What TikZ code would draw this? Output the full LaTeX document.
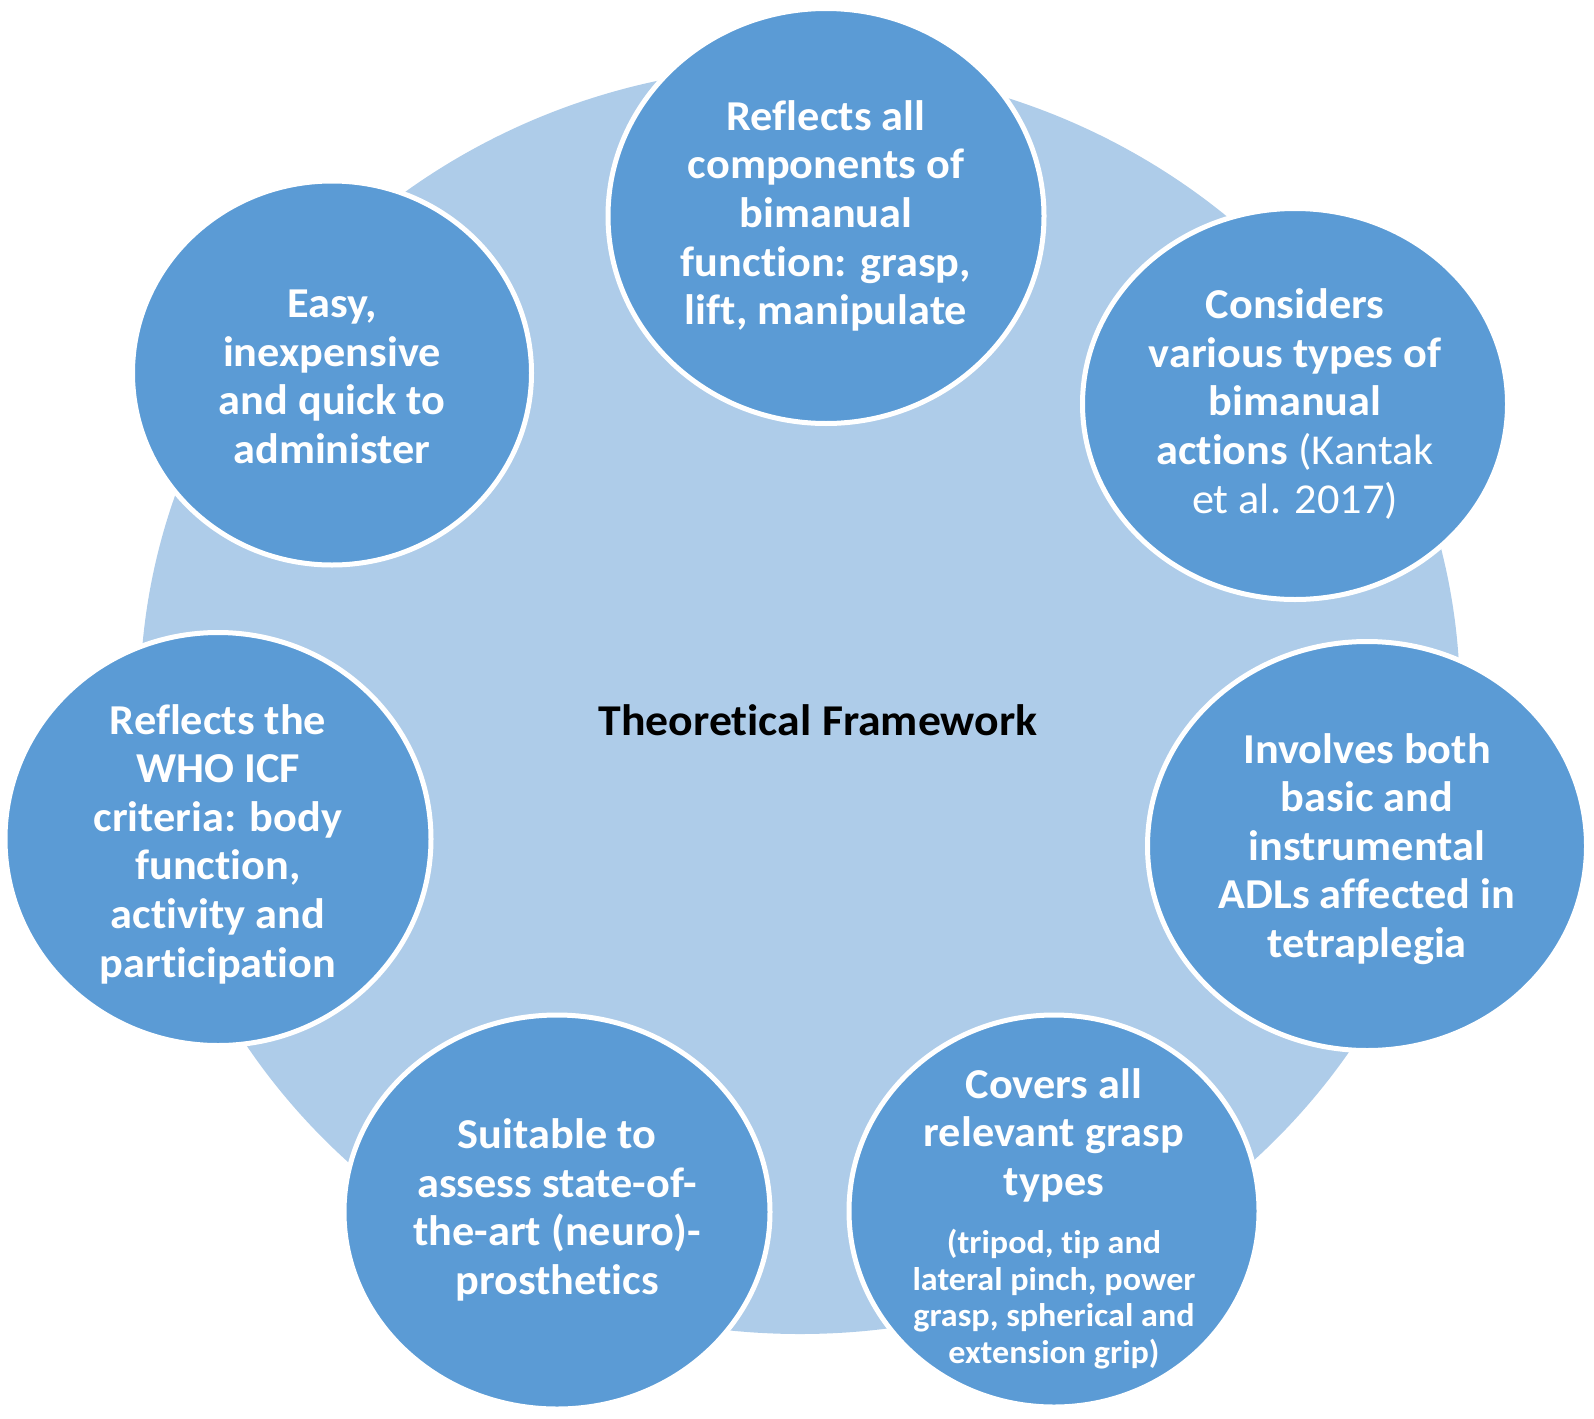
\documentclass[tikz,border=0pt]{standalone}
\usepackage{fontspec}
\setmainfont{Carlito}[FakeStretch=1.04, Ligatures=NoCommon]
\usetikzlibrary{shapes.geometric}
\definecolor{darkblue}{RGB}{91,155,213}
\definecolor{lightblue}{RGB}{174,204,233}
\tikzset{
  bgshape/.style={ellipse, fill=lightblue, draw=none, inner sep=0pt},
  bubble/.style={ellipse, draw=white, line width=2.5pt, fill=darkblue, inner sep=0pt},
  btext/.style={text=white, font=\bfseries\fontsize{21.3}{24.3}\selectfont, align=center, inner sep=0pt},
  bsmall/.style={text=white, font=\bfseries\fontsize{16.4}{18.3}\selectfont, align=center, inner sep=0pt},
  ttext/.style={text=black, font=\bfseries\fontsize{22}{24.15}\selectfont, align=center, inner sep=0pt}
}
\begin{document}
\begin{tikzpicture}[x=0.5pt,y=-0.5pt]
\useasboundingbox (0,0) rectangle (1594,1418);
\node[bgshape, minimum width=660pt, minimum height=634pt] (bg) at (800,700) {};
\node[ttext] (title) at (818,720) {Theoretical Framework};

\node[bubble, minimum width=218pt, minimum height=207.5pt] (c1) at (826,216) {};
\node[btext] (t1) at (c1.center) {Reflects all\\components of\\bimanual\\function: grasp,\\lift, manipulate};

\node[bubble, minimum width=212.5pt, minimum height=195.5pt] (c2) at (1295,404) {};
\node[btext] (t2) at (c2.center) {Considers\\various types of\\bimanual\\actions {\mdseries (Kantak}\\{\mdseries et al. 2017)}};

\node[bubble, minimum width=219.5pt, minimum height=204.5pt] (c3) at (1367,846) {};
\node[btext] (t3) at ([yshift=-1.5pt]c3.center) {Involves both\\basic and\\instrumental\\ADLs affected in\\tetraplegia};

\node[bubble, minimum width=205pt, minimum height=196pt] (c4) at (1054,1211) {};
\node[btext] (t4) at (1054,1135) {Covers all\\relevant grasp\\types};
\node[bsmall] (t4s) at (1054,1299) {(tripod, tip and\\lateral pinch, power\\grasp, spherical and\\extension grip)};

\node[bubble, minimum width=213pt, minimum height=197pt] (c5) at (557,1212) {};
\node[btext] (t5) at ([yshift=1pt]c5.center) {Suitable to\\assess state-of-\\the-art (neuro)-\\prosthetics};

\node[bubble, minimum width=213pt, minimum height=206.5pt] (c6) at (218,839) {};
\node[btext] (t6) at ([yshift=-2.5pt]c6.center) {Reflects the\\WHO ICF\\criteria: body\\function,\\activity and\\participation};

\node[bubble, minimum width=199.5pt, minimum height=192pt] (c7) at (332,373) {};
\node[btext] (t7) at ([yshift=-2pt]c7.center) {Easy,\\inexpensive\\and quick to\\administer};
\end{tikzpicture}
\end{document}
